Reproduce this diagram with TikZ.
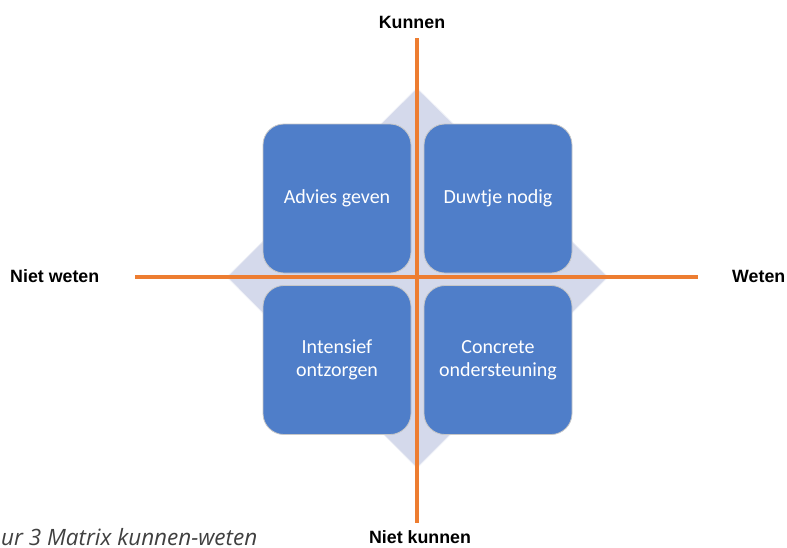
\documentclass[tikz,border=0pt]{standalone}
\usepackage{fontspec}
\setmainfont{Carlito}
\newfontfamily\labfont{Liberation Sans}
\newfontfamily\capfont{Open Sans}
\usetikzlibrary{shapes.geometric}
\definecolor{boxblue}{HTML}{4F7EC9}
\definecolor{diafill}{HTML}{D4D9EB}
\definecolor{axisorange}{HTML}{ED7D31}
\tikzset{
  quad/.style={draw=black!22, line width=0.8pt, fill=boxblue, rounded corners=21pt,
    minimum width=148pt, minimum height=149pt, text=white, align=center,
    font=\fontsize{20}{23.5}\selectfont, inner sep=0pt},
  axislab/.style={font=\labfont\bfseries\fontsize{17.8}{20}\selectfont, text=black, inner sep=0pt},
  axis/.style={draw=axisorange, line width=4pt}
}
\begin{document}
\begin{tikzpicture}[x=1pt,y=-1pt]
\useasboundingbox (0,0) rectangle (787,547);
% diamond
\coordinate (dt) at (417,88);
\coordinate (db) at (417,468);
\coordinate (dl) at (227,277);
\coordinate (dr) at (608,277);
\fill[diafill, draw=white!60!diafill, line width=0.8pt] (dt) -- (dr) -- (db) -- (dl) -- cycle;
% boxes
\node[quad] (tl) at (337,198.5) {Advies geven};
\node[quad] (tr) at (498,198.5) {Duwtje nodig};
\node[quad] (bl) at (337,360) {Intensief\\ontzorgen};
\node[quad] (br) at (498,360) {Concrete\\ondersteuning};
% axes
\coordinate (vtop) at (417,38);
\coordinate (vbot) at (417,523);
\coordinate (hl) at (135,277);
\coordinate (hr) at (698,277);
\draw[axis] (hl) -- (hr);
\draw[axis] (vtop) -- (vbot);
% labels
\node[axislab, anchor=base] (kun) at (412,28) {Kunnen};
\node[axislab, anchor=base] (nkun) at (420,543) {Niet kunnen};
\node[axislab, anchor=base west] (nwet) at (10,282) {Niet weten};
\node[axislab, anchor=base west] (wet) at (732,282) {Weten};
\node[font=\capfont\itshape\fontsize{22.5}{24}\selectfont, text=black!75, anchor=base west, inner sep=0pt] (cap) at (1,545) {ur 3 Matrix kunnen-weten};
\end{tikzpicture}
\end{document}
